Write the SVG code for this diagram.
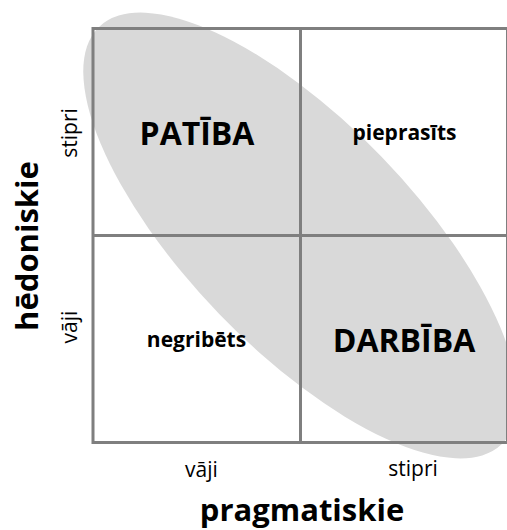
<svg xmlns="http://www.w3.org/2000/svg" width="507" height="530" viewBox="0 0 507 530">
  <style>
    text { font-family: "Open Sans", "Noto Sans", "Liberation Sans", sans-serif; fill: #000; }
    .big { font-size: 32px; font-weight: 700; text-anchor: middle; }
    .mid { font-size: 21px; font-weight: 700; text-anchor: middle; }
    .axis { font-size: 31px; font-weight: 700; text-anchor: middle; }
    .tick { font-size: 21px; font-weight: 400; text-anchor: middle; }
    .grid { fill: none; stroke: #7f7f7f; stroke-width: 3; }
  </style>

  <rect width="507" height="530" fill="#fff"/>

  <!-- diagonal band from PATĪBA to DARBĪBA -->
  <ellipse id="band" cx="300.5" cy="235.5" rx="290" ry="113" fill="#d9d9d9" transform="rotate(46 300.5 235.5)"/>

  <!-- 2x2 matrix -->
  <g id="grid">
    <rect class="grid" x="93" y="28.5" width="414.5" height="414"/>
    <line class="grid" x1="300.5" y1="28.5" x2="300.5" y2="442.5"/>
    <line class="grid" x1="93" y1="235.5" x2="507.5" y2="235.5"/>
  </g>

  <g id="connectors"/>

  <g id="q-patiba"><text class="big" x="197" y="145">PATĪBA</text></g>
  <g id="q-pieprasits"><text class="mid" x="404.5" y="140">pieprasīts</text></g>
  <g id="q-negribets"><text class="mid" x="196.5" y="347">negribēts</text></g>
  <g id="q-darbiba"><text class="big" x="404" y="351.5">DARBĪBA</text></g>

  <!-- vertical axis -->
  <g id="axis-y">
    <text class="axis" transform="translate(38 246) rotate(-90)">hēdoniskie</text>
    <text class="tick" transform="translate(77 133) rotate(-90)">stipri</text>
    <text class="tick" transform="translate(77 327) rotate(-90)">vāji</text>
  </g>

  <!-- horizontal axis -->
  <g id="axis-x">
    <text class="tick" x="201.5" y="477">vāji</text>
    <text class="tick" x="413" y="476">stipri</text>
    <text class="axis" x="302" y="521">pragmatiskie</text>
  </g>
</svg>
